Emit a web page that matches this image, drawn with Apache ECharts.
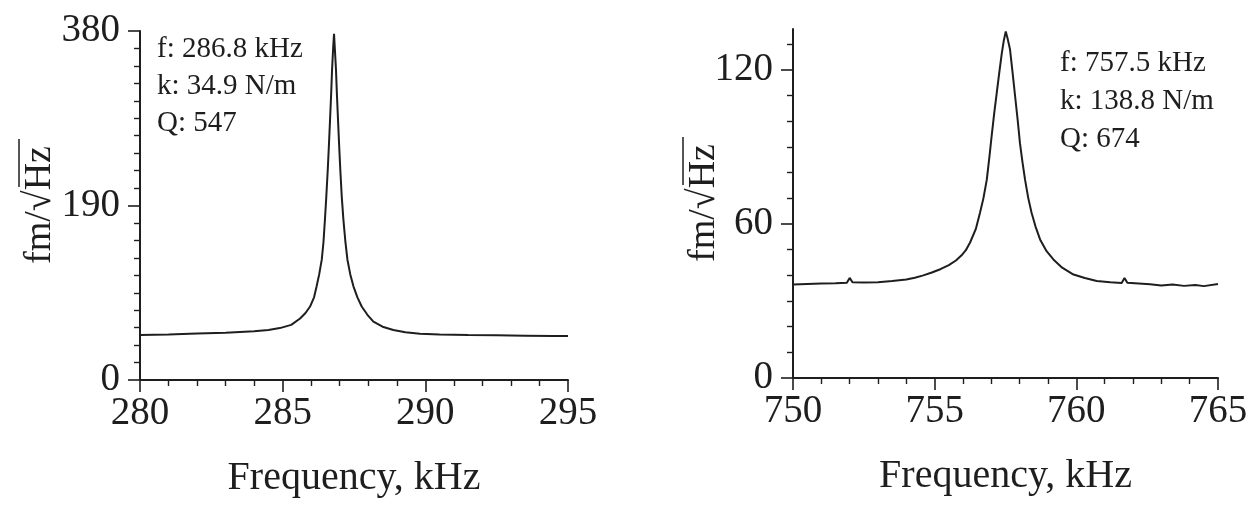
<!DOCTYPE html>
<html>
<head>
<meta charset="utf-8">
<script src="https://cdn.jsdelivr.net/npm/echarts@6/dist/echarts.min.js"></script>
<style>
html,body{margin:0;padding:0;background:#fff;}
#chart{width:1258px;height:508px;}
</style>
</head>
<body>
<div id="chart"></div>
<script>
// ---- Data ----
const leftFreq = [280, 281, 282, 283, 284, 284.5, 284.9, 285.3, 285.61, 285.8, 285.96, 286.1, 286.19, 286.28, 286.37, 286.43, 286.48, 286.53, 286.58, 286.62, 286.66, 286.7, 286.73, 286.77, 286.8, 286.83, 286.87, 286.9, 286.94, 286.98, 287.02, 287.07, 287.13, 287.2, 287.27, 287.37, 287.48, 287.62, 287.77, 287.97, 288.18, 288.5, 288.88, 289.3, 289.81, 290.5, 291.5, 292.5, 293.5, 294.5, 295];
const leftAmp = [49, 49.5, 50.5, 51.5, 53, 54.5, 56.5, 60, 67, 73, 80, 90, 102, 115, 131, 150, 174, 200, 229, 255, 283, 312, 337, 362, 377, 360, 337, 312, 283, 255, 229, 200, 174, 150, 131, 115, 102, 90, 80, 71, 63.5, 58, 54.4, 52, 50.3, 49.5, 49, 48.6, 48.3, 48, 48];

const rightFreq = [750, 750.5, 751, 751.5, 751.9, 752.0, 752.1, 752.5, 753, 753.5, 754, 754.3, 754.6, 754.9, 755.2, 755.5, 755.75, 755.95, 756.1, 756.25, 756.45, 756.6, 756.72, 756.84, 756.93, 757.01, 757.1, 757.19, 757.28, 757.37, 757.44, 757.51, 757.58, 757.66, 757.75, 757.84, 757.93, 758.01, 758.1, 758.19, 758.3, 758.42, 758.56, 758.72, 758.95, 759.19, 759.5, 759.9, 760.3, 760.72, 761.2, 761.6, 761.7, 761.8, 762.2, 762.6, 763, 763.4, 763.8, 764.2, 764.5, 765];
const rightAmp = [36.4, 36.6, 36.8, 36.9, 37.1, 39, 37.3, 37.2, 37.3, 37.8, 38.4, 39.1, 40.0, 41.1, 42.4, 44.0, 45.8, 47.8, 49.8, 52.8, 58, 64.4, 70, 77.3, 86, 94.2, 103, 111, 119, 126.6, 131.5, 135, 132, 128, 119, 109.7, 100.5, 91.5, 84, 77.3, 70.3, 64.4, 59, 54, 49.4, 46.2, 43, 40.3, 39, 37.8, 37.3, 37, 39, 37.1, 36.8, 36.5, 36, 36.4, 35.9, 36.2, 35.8, 36.6];

const leftXTicks = { min: 280, max: 295, step: 5 };
const leftYTicks = { min: 0, max: 380, step: 190 };
const rightXTicks = { min: 750, max: 765, step: 5 };
const rightYMax = 136;
const rightYMajor = [0, 60, 120];
const rightYMinor = [10, 20, 30, 40, 50, 70, 80, 90, 100, 110, 130];

const leftNotes = ['f: 286.8 kHz', 'k: 34.9 N/m', 'Q: 547'];
const rightNotes = ['f: 757.5 kHz', 'k: 138.8 N/m', 'Q: 674'];
const xName = 'Frequency, kHz';
const yName = 'fm/\u221AHz';

// ---- Chart ----
const FONT = '"Liberation Serif", "Times New Roman", serif';
const INK = '#1e1e1e';
const chart = echarts.init(document.getElementById('chart'));

function pairs(xs, ys) { return xs.map((x, i) => [x, ys[i]]); }

const axisLine = { show: true, lineStyle: { color: INK, width: 2 } };
const majorTick = { show: true, inside: false, length: 12, lineStyle: { color: INK, width: 1.6 } };
const minorTickStyle = { color: INK, width: 1.4 };

function xAxisDef(grid, t) {
  return {
    type: 'value', gridIndex: grid, min: t.min, max: t.max, interval: t.step,
    position: 'bottom',
    axisLine: axisLine, axisTick: majorTick,
    minorTick: { show: true, splitNumber: 5, length: 6, lineStyle: minorTickStyle },
    splitLine: { show: false }, minorSplitLine: { show: false },
    axisLabel: { color: INK, fontFamily: FONT, fontSize: 39, margin: 14 },
    name: xName, nameLocation: 'middle', nameGap: 78,
    nameTextStyle: { color: INK, fontFamily: FONT, fontSize: 40 }
  };
}

const option = {
  animation: false,
  backgroundColor: '#fff',
  grid: [
    { left: 140, top: 31, width: 428, height: 349 },
    { left: 793, top: 29, width: 425, height: 349 }
  ],
  xAxis: [xAxisDef(0, leftXTicks), xAxisDef(1, rightXTicks)],
  yAxis: [
    {
      type: 'value', gridIndex: 0, position: 'left', min: leftYTicks.min, max: leftYTicks.max, interval: leftYTicks.step,
      axisLine: axisLine, axisTick: majorTick,
      minorTick: { show: true, splitNumber: 10, length: 6, lineStyle: minorTickStyle },
      splitLine: { show: false }, minorSplitLine: { show: false },
      axisLabel: { color: INK, fontFamily: FONT, fontSize: 39, margin: 20 }
    },
    {
      type: 'value', gridIndex: 1, position: 'left', offset: 0, min: 0, max: rightYMax,
      axisLine: axisLine,
      axisTick: Object.assign({}, majorTick, { customValues: rightYMajor }),
      splitLine: { show: false },
      axisLabel: { color: INK, fontFamily: FONT, fontSize: 39, margin: 20, customValues: rightYMajor }
    },
    {
      type: 'value', gridIndex: 1, position: 'left', offset: 0, min: 0, max: rightYMax,
      axisLine: { show: false },
      axisTick: { show: true, inside: false, length: 6, lineStyle: minorTickStyle, customValues: rightYMinor },
      splitLine: { show: false },
      axisLabel: { show: false }
    }
  ],
  series: [
    {
      type: 'line', xAxisIndex: 0, yAxisIndex: 0, data: pairs(leftFreq, leftAmp),
      showSymbol: false, symbol: 'none', lineStyle: { color: INK, width: 2 }
    },
    {
      type: 'line', xAxisIndex: 1, yAxisIndex: 1, data: pairs(rightFreq, rightAmp),
      showSymbol: false, symbol: 'none', lineStyle: { color: INK, width: 2 }
    }
  ],
  graphic: [
    {
      type: 'text', x: 157, y: 31,
      style: { text: leftNotes.join('\n'), font: '29px ' + FONT, lineHeight: 37, fill: INK, textAlign: 'left', textVerticalAlign: 'top', align: 'left', verticalAlign: 'top' }
    },
    {
      type: 'text', x: 1060, y: 44,
      style: { text: rightNotes.join('\n'), font: '29px ' + FONT, lineHeight: 38, fill: INK, textAlign: 'left', textVerticalAlign: 'top', align: 'left', verticalAlign: 'top' }
    },
    {
      type: 'text', x: 40, y: 205, rotation: Math.PI / 2,
      style: { text: yName, font: '38px ' + FONT, fill: INK, textAlign: 'center', textVerticalAlign: 'middle', align: 'center', verticalAlign: 'middle' }
    },
    {
      type: 'text', x: 704, y: 203, rotation: Math.PI / 2,
      style: { text: yName, font: '38px ' + FONT, fill: INK, textAlign: 'center', textVerticalAlign: 'middle', align: 'center', verticalAlign: 'middle' }
    },
    { type: 'line', shape: { x1: 19, y1: 139, x2: 19, y2: 187 }, style: { stroke: INK, lineWidth: 1.5 } },
    { type: 'line', shape: { x1: 683, y1: 137, x2: 683, y2: 185 }, style: { stroke: INK, lineWidth: 1.5 } }
  ]
};
chart.setOption(option);
</script>
</body>
</html>
